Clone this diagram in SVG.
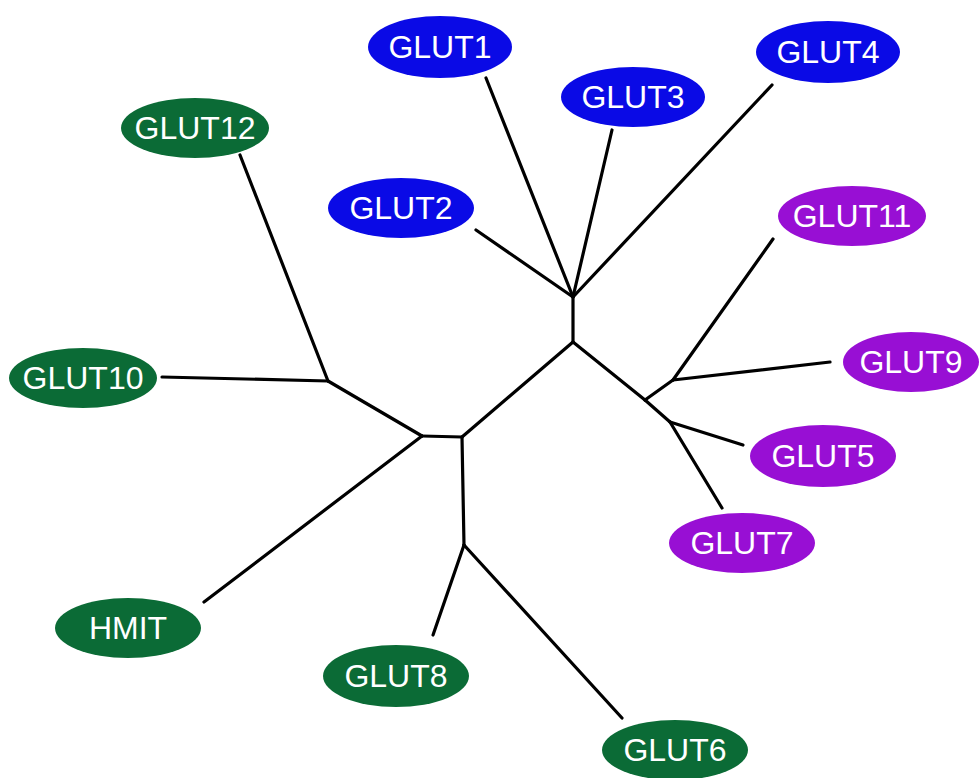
<svg xmlns="http://www.w3.org/2000/svg" width="980" height="778" viewBox="0 0 980 778">
<style>
.e{stroke:none}
.b{fill:#0a0ae6}
.g{fill:#0b6b36}
.p{fill:#980fd4}
text{font-family:"Liberation Sans",Arial,sans-serif;font-size:32px;fill:#ffffff;text-anchor:middle;dominant-baseline:central}
.c line{stroke:#000;stroke-width:3.2;stroke-linecap:round}
</style>
<rect width="980" height="778" fill="#fff"/>
<g class="c" id="connectors">
<line x1="573" y1="297" x2="573" y2="342"/>
<line x1="573" y1="297" x2="476" y2="230"/>
<line x1="573" y1="297" x2="486" y2="78"/>
<line x1="573" y1="297" x2="612" y2="130"/>
<line x1="573" y1="297" x2="772" y2="85"/>
<line x1="573" y1="342" x2="462" y2="437"/>
<line x1="573" y1="342" x2="645" y2="400"/>
<line x1="645" y1="400" x2="673" y2="380"/>
<line x1="673" y1="380" x2="773" y2="239"/>
<line x1="673" y1="380" x2="830" y2="362"/>
<line x1="645" y1="400" x2="670" y2="422"/>
<line x1="670" y1="422" x2="743" y2="445"/>
<line x1="670" y1="422" x2="722" y2="508"/>
<line x1="462" y1="437" x2="422" y2="436"/>
<line x1="422" y1="436" x2="328" y2="381"/>
<line x1="328" y1="381" x2="240" y2="155"/>
<line x1="328" y1="381" x2="162" y2="377"/>
<line x1="422" y1="436" x2="204" y2="602"/>
<line x1="462" y1="437" x2="464" y2="545"/>
<line x1="464" y1="545" x2="433" y2="635"/>
<line x1="464" y1="545" x2="622" y2="718"/>
</g>
<g id="GLUT1"><ellipse class="e b" cx="440" cy="47" rx="72" ry="31"/><text x="440" y="47">GLUT1</text></g>
<g id="GLUT3"><ellipse class="e b" cx="633" cy="97" rx="72" ry="30"/><text x="633" y="97">GLUT3</text></g>
<g id="GLUT4"><ellipse class="e b" cx="828" cy="52" rx="72" ry="31"/><text x="828" y="52">GLUT4</text></g>
<g id="GLUT2"><ellipse class="e b" cx="401" cy="208" rx="73" ry="30"/><text x="401" y="208">GLUT2</text></g>
<g id="GLUT12"><ellipse class="e g" cx="195" cy="128" rx="74" ry="30"/><text x="195" y="128">GLUT12</text></g>
<g id="GLUT10"><ellipse class="e g" cx="83" cy="378" rx="74" ry="30"/><text x="83" y="378">GLUT10</text></g>
<g id="GLUT11"><ellipse class="e p" cx="852" cy="216" rx="74" ry="30"/><text x="852" y="216">GLUT11</text></g>
<g id="GLUT9"><ellipse class="e p" cx="911" cy="362" rx="68" ry="30"/><text x="911" y="362">GLUT9</text></g>
<g id="GLUT5"><ellipse class="e p" cx="823" cy="456" rx="73" ry="31"/><text x="823" y="456">GLUT5</text></g>
<g id="GLUT7"><ellipse class="e p" cx="742" cy="543" rx="73" ry="30"/><text x="742" y="543">GLUT7</text></g>
<g id="HMIT"><ellipse class="e g" cx="128" cy="628" rx="73" ry="30"/><text x="128" y="628">HMIT</text></g>
<g id="GLUT8"><ellipse class="e g" cx="396" cy="676" rx="73" ry="31"/><text x="396" y="676">GLUT8</text></g>
<g id="GLUT6"><ellipse class="e g" cx="675" cy="750" rx="73" ry="30"/><text x="675" y="750">GLUT6</text></g>
</svg>
